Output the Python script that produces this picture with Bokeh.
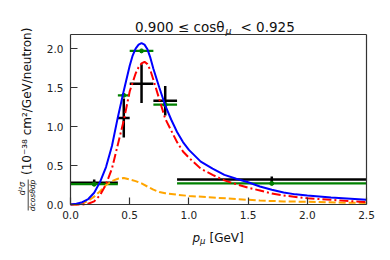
import math
from bokeh.plotting import figure
from bokeh.models import Label, Arrow, FixedTicker, PrintfTickFormatter, ColumnDataSource, Range1d, LinearAxis
from bokeh.embed import file_html
from bokeh.resources import INLINE

# ---- data ----
bin_lo = [0.0, 0.4, 0.5, 0.7, 0.9]
bin_hi = [0.4, 0.5, 0.7, 0.9, 2.5]
data_x = [0.2, 0.45, 0.6, 0.8, 1.7]
data_y = [0.28, 1.11, 1.55, 1.33, 0.32]
data_err = [0.04, 0.25, 0.25, 0.19, 0.04]
model_y = [0.26, 1.40, 1.97, 1.28, 0.27]

blue_x = [0.0, 0.05, 0.1, 0.15, 0.2, 0.25, 0.3, 0.35, 0.4, 0.45, 0.5, 0.525, 0.55, 0.575, 0.6,
          0.625, 0.65, 0.675, 0.7,
          0.75, 0.8, 0.85, 0.9, 0.95, 1.0, 1.1, 1.2, 1.3, 1.4, 1.5, 1.6, 1.7, 1.8, 1.9, 2.0,
          2.2, 2.4, 2.5]
blue_y = [0.0, 0.01, 0.03, 0.07, 0.15, 0.29, 0.48, 0.75, 1.12, 1.46, 1.78, 1.91, 2.00, 2.05, 2.07,
          2.05, 1.99, 1.88, 1.74,
          1.50, 1.27, 1.09, 0.93, 0.80, 0.70, 0.55, 0.46, 0.38, 0.33, 0.285, 0.23, 0.19, 0.155, 0.13, 0.115,
          0.09, 0.07, 0.06]

red_x = [0.0, 0.1, 0.15, 0.2, 0.25, 0.3, 0.35, 0.4, 0.45, 0.5, 0.55, 0.575, 0.6, 0.625, 0.65, 0.675, 0.7,
         0.75, 0.8, 0.85, 0.9, 0.95, 1.0, 1.1, 1.2, 1.3, 1.4, 1.5, 1.6, 1.7, 1.8, 2.0, 2.2, 2.5]
red_y = [0.0, 0.0, 0.01, 0.04, 0.12, 0.26, 0.46, 0.77, 1.08, 1.45, 1.68, 1.76, 1.81, 1.83, 1.80, 1.72, 1.60,
         1.35, 1.10, 0.95, 0.80, 0.68, 0.60, 0.46, 0.38, 0.31, 0.26, 0.215, 0.18, 0.14, 0.115, 0.08, 0.06, 0.03]

orange_x = [0.0, 0.08, 0.1, 0.15, 0.2, 0.25, 0.3, 0.35, 0.4, 0.45, 0.5, 0.55, 0.6, 0.65, 0.7,
            0.75, 0.8, 0.9, 1.0, 1.2, 1.4, 1.6, 1.8, 2.0, 2.25, 2.5]
orange_y = [0.0, 0.0, 0.01, 0.05, 0.10, 0.17, 0.25, 0.30, 0.33, 0.34, 0.32, 0.30, 0.27, 0.23, 0.19,
            0.16, 0.145, 0.125, 0.11, 0.09, 0.07, 0.05, 0.04, 0.035, 0.025, 0.02]

x_ticks = [0.0, 0.5, 1.0, 1.5, 2.0, 2.5]
y_ticks = [0.0, 0.5, 1.0, 1.5, 2.0]

X0, X1, Y0, Y1 = 0.0, 2.5, 0.0, 2.18

# data box placed at page px: left 70, right 366, top 34, bottom 204 (frame = whole canvas)
W, H = 382, 252
BL, BR, BT, BB = 70, 366, 34, 204
KX = (X1 - X0) / (BR - BL)
KY = (Y1 - Y0) / (BB - BT)

p = figure(width=W, height=H, output_backend="svg", toolbar_location=None,
           x_range=Range1d(X0 - BL * KX, X1 + (W - BR) * KX),
           y_range=Range1d(Y0 - (H - BB) * KY, Y1 + BT * KY),
           min_border=0)
p.grid.visible = False
p.background_fill_color = "white"
p.border_fill_color = "white"
p.outline_line_color = None

FRAME = "#333333"

def style_axis(ax, show_ticks=True):
    ax.axis_line_color = FRAME
    ax.axis_line_width = 1.2
    ax.minor_tick_line_color = None
    if show_ticks:
        ax.major_tick_in = 7
        ax.major_tick_out = 0
        ax.major_tick_line_color = FRAME
        ax.major_tick_line_width = 1.2
        ax.major_label_text_font = "DejaVu Sans"
        ax.major_label_text_font_size = "10.5px"
        ax.major_label_text_color = "#222222"
        ax.formatter = PrintfTickFormatter(format="%.1f")
    else:
        ax.major_tick_line_color = None
        ax.major_label_text_color = None
        ax.major_label_text_font_size = "1px"

xa = p.xaxis[0]
ya = p.yaxis[0]
style_axis(xa)
style_axis(ya)
xa.ticker = FixedTicker(ticks=x_ticks)
ya.ticker = FixedTicker(ticks=y_ticks)
xa.fixed_location = Y0
ya.fixed_location = X0
xa.bounds = (X0, X1)
ya.bounds = (Y0, Y1)
xa.major_label_standoff = 6
ya.major_label_standoff = 7

top = LinearAxis(fixed_location=Y1, bounds=(X0, X1), ticker=FixedTicker(ticks=[]))
right = LinearAxis(fixed_location=X1, bounds=(Y0, Y1), ticker=FixedTicker(ticks=[]))
style_axis(top, False)
style_axis(right, False)
p.add_layout(top, "above")
p.add_layout(right, "right")

# data points
src = ColumnDataSource(dict(lo=bin_lo, hi=bin_hi, x=data_x, y=data_y,
                            ylo=[a - b for a, b in zip(data_y, data_err)],
                            yhi=[a + b for a, b in zip(data_y, data_err)],
                            my=model_y))
p.segment(x0="lo", x1="hi", y0="y", y1="y", source=src, line_color="black", line_width=2.5)
p.segment(x0="x", x1="x", y0="ylo", y1="yhi", source=src, line_color="black", line_width=2.5)
p.segment(x0="lo", x1="hi", y0="my", y1="my", source=src, line_color="green", line_width=2.2)
p.scatter(x="x", y="my", source=src, size=4, color="green")

# curves
p.line(orange_x, orange_y, line_color="orange", line_width=2, line_dash="7 3")
p.line(red_x, red_y, line_color="red", line_width=2, line_dash="9 3 2 3")
p.line(blue_x, blue_y, line_color="blue", line_width=2)

F = "DejaVu Sans"
def lab(px, py, text, size, align="left", baseline="alphabetic", italic=False, angle=0.0):
    p.add_layout(Label(x=px, y=py, x_units="canvas", y_units="canvas", text=text,
                       text_font=F, text_font_size=size, text_align=align, text_baseline=baseline,
                       text_font_style="italic" if italic else "normal", angle=angle,
                       text_color="#111111"))

# title
lab(224, 26.7, "0.900 \u2264 cos\u03b8", "13.5px", align="right")
lab(225, 29.5, "\u03bc", "9.5px", italic=True)
lab(240, 26.7, "< 0.925", "13.5px")

# x label
lab(192, 237.5, "p", "12px", italic=True)
lab(199.5, 240.5, "\u03bc", "8.5px", italic=True)
lab(209, 237.5, "[GeV]", "12px")

# y label
lab(26.5, 100.8, "(10\u207b\u00b3\u2078 cm\u00b2/GeV/neutron)", "12px", align="center", baseline="middle",
    angle=math.pi / 2)
lab(21.7, 188, "d\u00b2\u03c3", "8px", align="center", baseline="middle", italic=True, angle=math.pi / 2)
lab(32.3, 195, "dcos\u03b8dp", "7.5px", align="center", baseline="middle", italic=True, angle=math.pi / 2)
p.add_layout(Arrow(x_start=27.7, y_start=179, x_end=27.7, y_end=210,
                   start_units="canvas", end_units="canvas", start=None, end=None,
                   line_color="#111111", line_width=0.8))

open("out.html", "w").write(file_html(p, INLINE))
